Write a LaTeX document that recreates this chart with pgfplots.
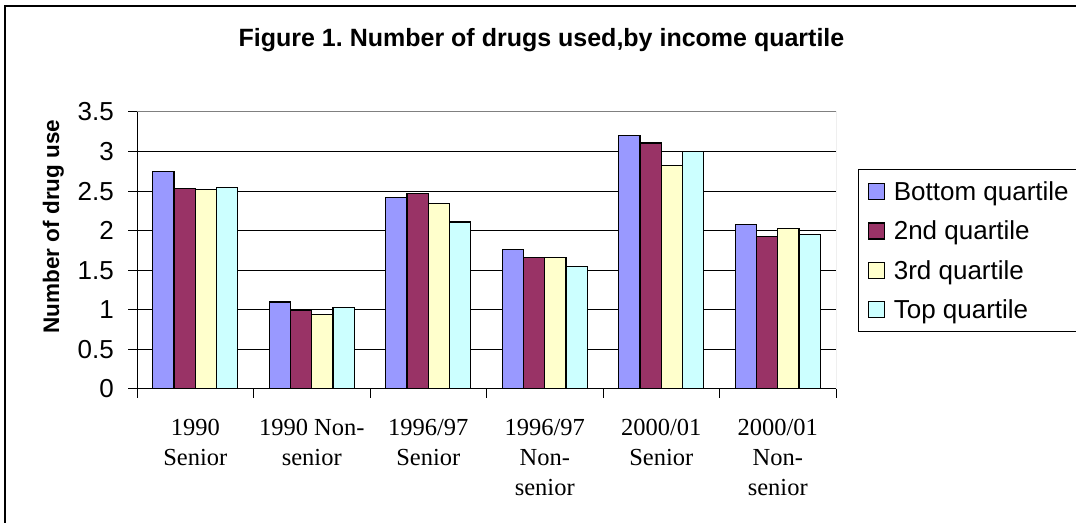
\documentclass[border=0pt]{standalone}
\usepackage{fontspec}
\setmainfont{Liberation Sans}
\newfontfamily\serifx{Liberation Serif}
\usepackage{pgfplots}
\pgfplotsset{compat=1.18}
\frenchspacing

\definecolor{qbottom}{HTML}{9999FF}
\definecolor{qsecond}{HTML}{993366}
\definecolor{qthird}{HTML}{FFFFCC}
\definecolor{qtop}{HTML}{CCFFFF}

\begin{document}
\begin{tikzpicture}[x=1bp,y=1bp]
\useasboundingbox (0,0) rectangle (1076,523);
% outer chart frame (right and bottom edges fall outside the picture)
\draw[line width=1.3bp] (5,-5) -- (5,517) -- (1085,517);

\node[anchor=base, font=\bfseries\fontsize{25bp}{30bp}\selectfont]
  at (541.5,476) {Figure 1. Number of drugs used,by income quartile};
\node[anchor=base, rotate=90, font=\bfseries\fontsize{22.5bp}{26bp}\selectfont]
  at (59,296.5) {Number of drug use};

\begin{axis}[
  at={(137bp,134bp)}, anchor=south west,
  scale only axis, width=699bp, height=277bp,
  xmin=0, xmax=6, ymin=0, ymax=3.5,
  axis x line*=bottom, axis y line*=left,
  axis line style={black, line width=1bp},
  ybar=0pt, bar width=0.1825,
  ytick={0,0.5,...,3.5},
  ymajorgrids, grid style={black, line width=1bp},
  tick align=outside, major tick length=9bp,
  tick style={black, line width=1bp},
  xtick={0,1,...,6}, xticklabels={},
  extra x ticks={0.5,1.5,...,5.5},
  extra x tick labels={1990\\Senior, 1990 Non-\\senior, 1996/97\\Senior,
    1996/97\\Non-\\senior, 2000/01\\Senior, 2000/01\\Non-\\senior},
  extra x tick style={major tick length=0pt,
    xticklabel style={align=center, anchor=north, inner sep=0pt, yshift=-30bp,
      font=\serifx\fontsize{24.5bp}{30bp}\selectfont}},
  /pgf/number format/assume math mode=true,
  yticklabel style={font=\fontsize{26bp}{30bp}\selectfont, inner sep=0pt, anchor=east, xshift=-14bp},
  legend cell align=left,
  legend image code/.code={\draw[#1, line width=1.3bp] (0bp,-8bp) rectangle (16bp,8bp);},
  legend style={at={(1.0315,0.794)}, anchor=north west, draw=black, line width=1bp,
    font=\fontsize{26bp}{30bp}\selectfont, inner xsep=9bp, inner ysep=13bp,
    row sep=21.3bp, column sep=9bp,
    nodes={inner sep=0pt, text height=18bp, text depth=0pt}},
  every axis plot/.append style={draw=black, line width=1.3bp},
]
\draw[gray, line width=1bp] (rel axis cs:0,1) -- (rel axis cs:1,1) -- (rel axis cs:1,0);
\addplot[fill=qbottom] coordinates {(0.5,2.75) (1.5,1.10) (2.5,2.42) (3.5,1.76) (4.5,3.20) (5.5,2.08)};
\addplot[fill=qsecond] coordinates {(0.5,2.53) (1.5,0.99) (2.5,2.47) (3.5,1.66) (4.5,3.11) (5.5,1.93)};
\addplot[fill=qthird] coordinates {(0.5,2.52) (1.5,0.94) (2.5,2.34) (3.5,1.66) (4.5,2.82) (5.5,2.03)};
\addplot[fill=qtop] coordinates {(0.5,2.55) (1.5,1.03) (2.5,2.11) (3.5,1.55) (4.5,3.00) (5.5,1.95)};
\legend{Bottom quartile, 2nd quartile, 3rd quartile, Top quartile}
\end{axis}
\end{tikzpicture}
\end{document}
